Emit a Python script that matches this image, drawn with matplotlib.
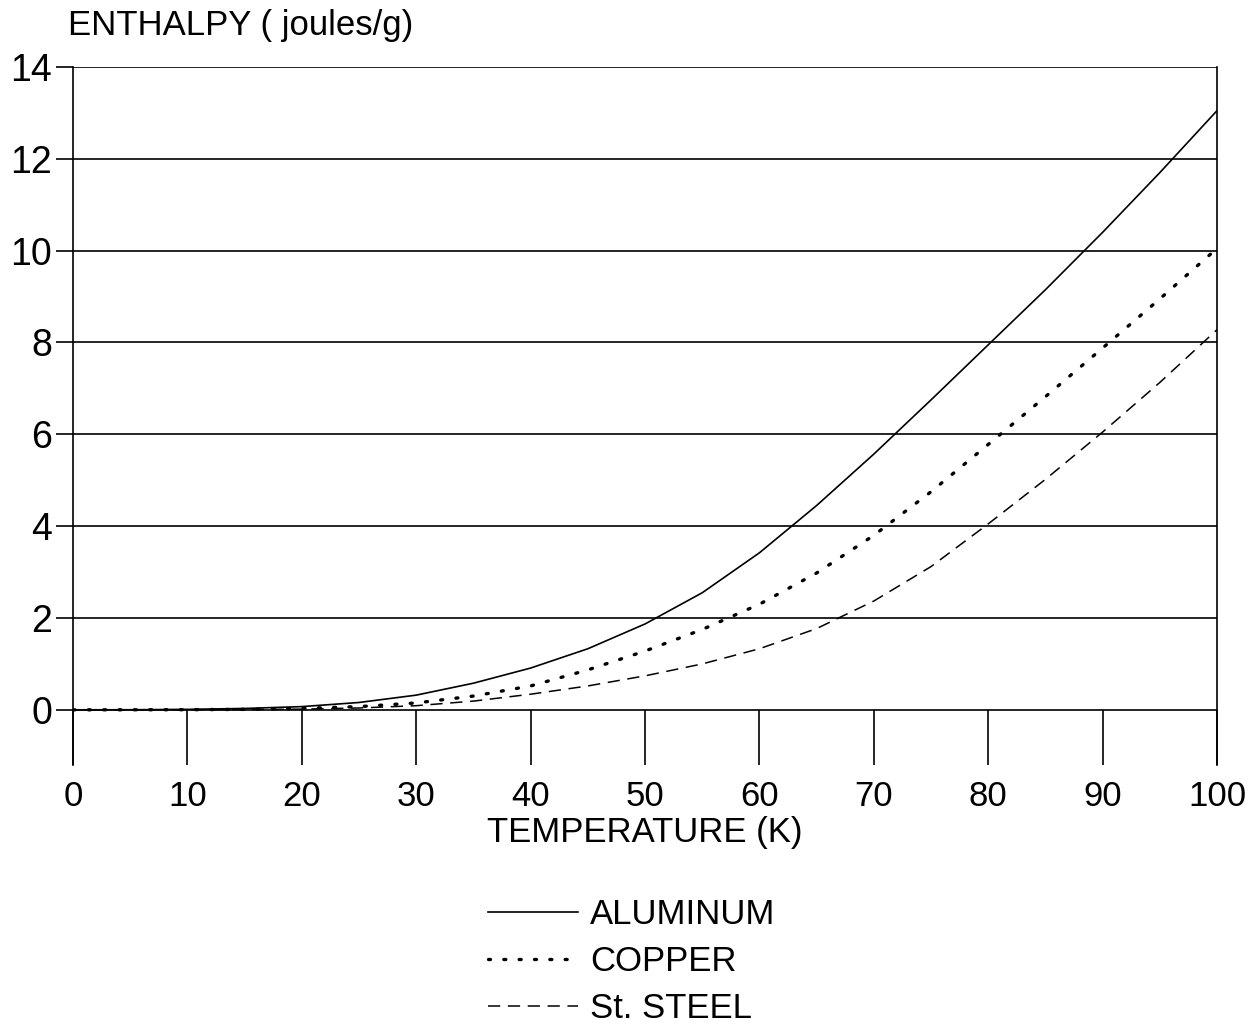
import matplotlib.pyplot as plt

plt.rcParams["font.family"] = ["Liberation Sans", "DejaVu Sans"]

# temperature (K) and enthalpy (joules/g)
temperature = [0, 5, 10, 15, 20, 25, 30, 35, 40, 45, 50, 55, 60, 65, 70, 75, 80, 85, 90, 95, 100]
aluminum = [0, 0.002, 0.01, 0.03, 0.07, 0.16, 0.32, 0.58, 0.91, 1.33, 1.87, 2.55, 3.42,
            4.45, 5.57, 6.75, 7.95, 9.15, 10.4, 11.7, 13.05]
copper = [0, 0.001, 0.003, 0.01, 0.03, 0.07, 0.15, 0.3, 0.52, 0.87, 1.28, 1.75, 2.3,
          2.98, 3.8, 4.75, 5.78, 6.82, 7.88, 8.95, 10.05]
steel = [0, 0.0005, 0.002, 0.006, 0.015, 0.04, 0.09, 0.19, 0.34, 0.52, 0.74, 1.0, 1.33,
         1.77, 2.37, 3.12, 4.05, 5.02, 6.05, 7.13, 8.28]

x_ticks = list(range(0, 101, 10))
y_ticks = list(range(0, 15, 2))

fig = plt.figure(figsize=(12.59, 10.24), dpi=100)
ax = fig.add_axes([0.058, 0.253, 0.9087, 0.6816])

ax.plot(temperature, aluminum, color="black", lw=1.2, ls="-", label="ALUMINUM")
ax.plot(temperature, copper, color="black", lw=2.4, ls=(0, (0.6, 4.0)),
        dash_capstyle="round", label="COPPER")
ax.plot(temperature, steel, color="black", lw=1.1, ls=(0, (8, 5)), label="St. STEEL")

ax.set_xlim(0, 100)
ax.set_ylim(-1.2, 14)
ax.set_xticks(x_ticks)
ax.set_yticks(y_ticks)

for side in ("top", "bottom"):
    ax.spines[side].set_visible(False)
for side in ("left", "right"):
    ax.spines[side].set_linewidth(1.2)

ax.yaxis.grid(True, color="black", lw=1.2)
ax.set_axisbelow(True)

# x ticks drawn as long inward marks from the bottom up to zero
ax.tick_params(axis="x", direction="in", length=39.5, width=1.2, pad=11,
               labelsize=25, bottom=True)
ax.tick_params(axis="y", direction="out", length=12, width=1.2, pad=3,
               labelsize=27)

ax.set_xlabel("TEMPERATURE (K)", fontsize=25, labelpad=2)
fig.text(68 / 1259, 1 - 26 / 1024, "ENTHALPY ( joules/g)", fontsize=25,
         ha="left", va="center")

fig.legend(loc="upper left", bbox_to_anchor=(488 / 1259, 1 - 898 / 1024),
           frameon=False, fontsize=25, handlelength=2.6, handletextpad=0.35,
           labelspacing=0.4, borderpad=0, borderaxespad=0)

fig.savefig("out.png", dpi=100)
